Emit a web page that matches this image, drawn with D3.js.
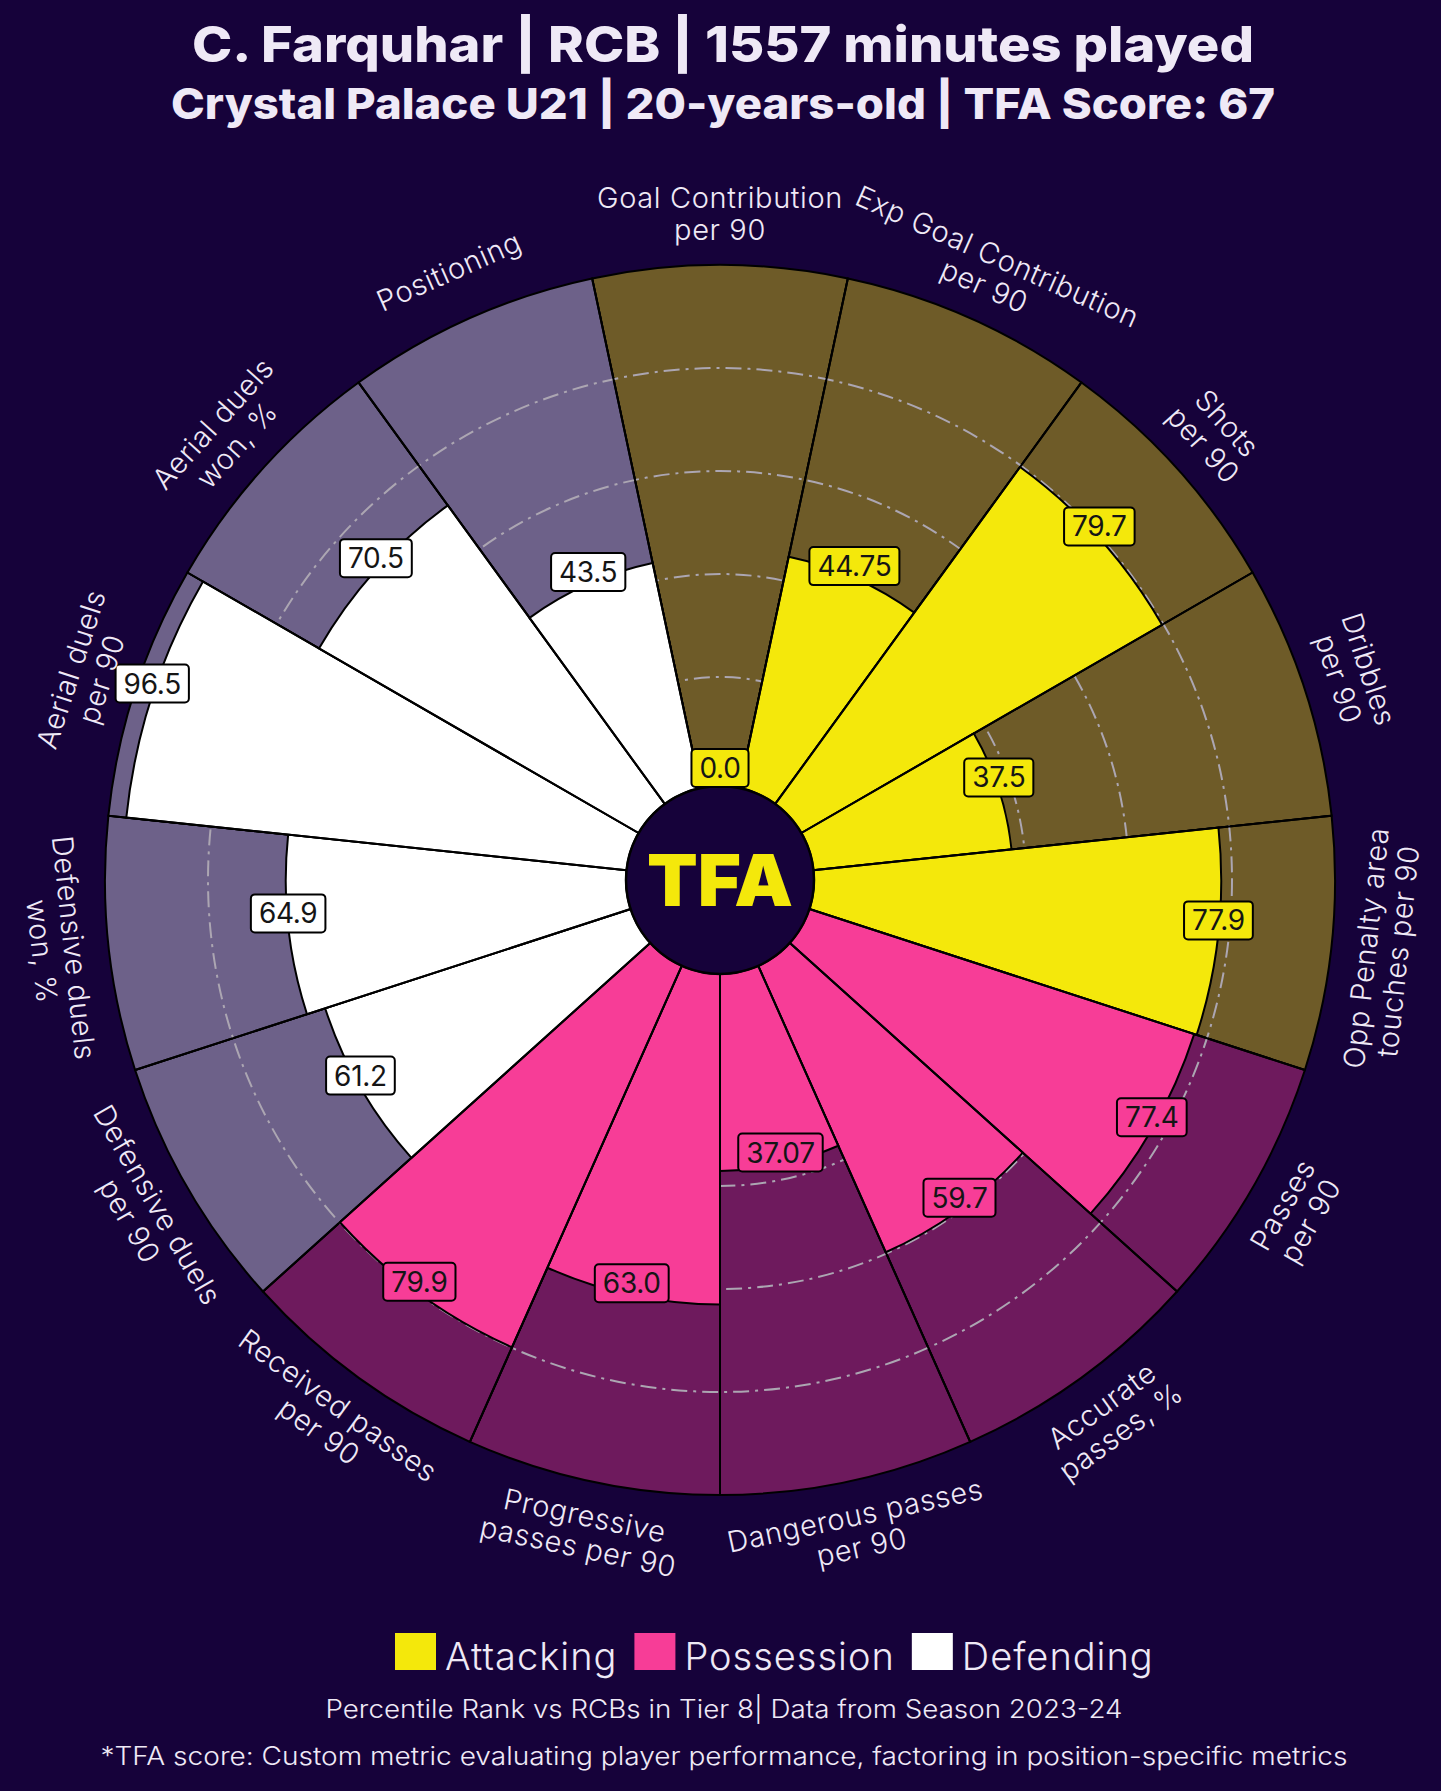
<!DOCTYPE html>
<html>
<head>
<meta charset="utf-8">
<script src="https://cdn.jsdelivr.net/npm/d3@7"></script>
<style>
  html, body { margin: 0; padding: 0; background: #16023a; }
  svg { display: block; }
</style>
</head>
<body>
<div id="chart"></div>
<script>
(function () {
  'use strict';

  // chart data
  var categories = [
    "Goal Contribution\nper 90",
    "Exp Goal Contribution\nper 90",
    "Shots\nper 90",
    "Dribbles\nper 90",
    "Opp Penalty area\ntouches per 90",
    "Passes\nper 90",
    "Accurate\npasses, %",
    "Dangerous passes\nper 90",
    "Progressive\npasses per 90",
    "Received passes\nper 90",
    "Defensive duels\nper 90",
    "Defensive duels\nwon, %",
    "Aerial duels\nper 90",
    "Aerial duels\nwon, %",
    "Positioning"
  ];
  var values = [0.0, 44.75, 79.7, 37.5, 77.9, 77.4, 59.7, 37.07, 63.0, 79.9, 61.2, 64.9, 96.5, 70.5, 43.5];
  var valueLabels = ["0.0", "44.75", "79.7", "37.5", "77.9", "77.4", "59.7", "37.07", "63.0", "79.9", "61.2", "64.9", "96.5", "70.5", "43.5"];
  var groups = ["Attacking", "Attacking", "Attacking", "Attacking", "Attacking",
                "Possession", "Possession", "Possession", "Possession", "Possession",
                "Defending", "Defending", "Defending", "Defending", "Defending"];
  var groupNames = ["Attacking", "Possession", "Defending"];
  var ringTicks = [20, 40, 60, 80];

  var title = "C. Farquhar | RCB | 1557 minutes played";
  var subtitle = "Crystal Palace U21 | 20-years-old | TFA Score: 67";
  var footer1 = "Percentile Rank vs RCBs in Tier 8| Data from Season 2023-24";
  var footer2 = "*TFA score: Custom metric evaluating player performance, factoring in position-specific metrics";

  var barColor = { Attacking: "#f4e80b", Possession: "#f73d97", Defending: "#ffffff" };
  var slabColor = { Attacking: "#6e5b28", Possession: "#6e1a5d", Defending: "#6d6189" };

  var width = 1441, height = 1791;
  var cx = 720, cy = 880;
  var innerR = 94, outerR = 615;
  var labelR = 666;
  var lineW = 2;
  var textColor = "#efe9f6";
  var font = "Inter, 'DejaVu Sans', sans-serif";

  var svg = d3.select("#chart").append("svg")
      .attr("width", width)
      .attr("height", height);

  svg.append("rect")
      .attr("width", width)
      .attr("height", height)
      .attr("fill", "#16023a");

  // titles
  svg.append("text")
      .attr("x", 723).attr("y", 62)
      .attr("text-anchor", "middle")
      .attr("textLength", 1062).attr("lengthAdjust", "spacingAndGlyphs")
      .style("font-family", font)
      .style("font-weight", 800)
      .style("font-size", "50px")
      .style("fill", textColor)
      .text(title);

  svg.append("text")
      .attr("x", 723).attr("y", 119)
      .attr("text-anchor", "middle")
      .attr("textLength", 1104).attr("lengthAdjust", "spacingAndGlyphs")
      .style("font-family", font)
      .style("font-weight", 800)
      .style("font-size", "43px")
      .style("fill", textColor)
      .text(subtitle);

  var n = categories.length;
  var step = 2 * Math.PI / n;

  var r = d3.scaleLinear().domain([0, 100]).range([100, outerR]);

  var data = categories.map(function (c, i) {
    return {
      name: c,
      value: values[i],
      label: valueLabels[i],
      group: groups[i],
      start: i * step - step / 2,
      end: i * step + step / 2,
      mid: i * step
    };
  });

  var g = svg.append("g").attr("transform", "translate(" + cx + "," + cy + ")");

  var arc = d3.arc();

  // background slices
  g.selectAll(".slab")
      .data(data)
      .enter().append("path")
        .attr("class", "slab")
        .attr("d", function (d) {
          return arc({ innerRadius: innerR, outerRadius: r(100), startAngle: d.start, endAngle: d.end });
        })
        .attr("fill", function (d) { return slabColor[d.group]; })
        .attr("stroke", "#000")
        .attr("stroke-width", lineW);

  // rings
  g.selectAll(".ring")
      .data(ringTicks)
      .enter().append("circle")
        .attr("class", "ring")
        .attr("r", function (d) { return r(d); })
        .attr("fill", "none")
        .attr("stroke", "#aca6b2")
        .attr("stroke-width", 2)
        .attr("stroke-dasharray", "16,6,3,6");

  // value bars
  g.selectAll(".bar")
      .data(data)
      .enter().append("path")
        .attr("class", "bar")
        .attr("d", function (d) {
          return arc({ innerRadius: innerR, outerRadius: Math.max(r(d.value), innerR), startAngle: d.start, endAngle: d.end });
        })
        .attr("fill", function (d) { return barColor[d.group]; })
        .attr("stroke", "#000")
        .attr("stroke-width", lineW);

  // radial separators to the outer edge
  g.selectAll(".sep")
      .data(data)
      .enter().append("line")
        .attr("class", "sep")
        .attr("x1", function (d) { return innerR * Math.sin(d.start); })
        .attr("y1", function (d) { return -innerR * Math.cos(d.start); })
        .attr("x2", function (d) { return r(100) * Math.sin(d.start); })
        .attr("y2", function (d) { return -r(100) * Math.cos(d.start); })
        .attr("stroke", "#000")
        .attr("stroke-width", lineW);

  // centre circle + logo
  g.append("circle")
      .attr("r", innerR)
      .attr("fill", "#16023a")
      .attr("stroke", "#000")
      .attr("stroke-width", 2.5);

  g.append("text")
      .attr("x", 0).attr("y", 26)
      .attr("text-anchor", "middle")
      .attr("textLength", 146).attr("lengthAdjust", "spacingAndGlyphs")
      .style("font-family", font)
      .style("font-weight", 900)
      .style("font-size", "72px")
      .style("fill", "#f4e80b")
      .text("TFA");

  // value labels
  var vl = g.selectAll(".vlabel")
      .data(data)
      .enter().append("g")
        .attr("class", "vlabel")
        .attr("transform", function (d) {
          var rr = r(d.value);
          return "translate(" + (rr * Math.sin(d.mid)) + "," + (-rr * Math.cos(d.mid) - 12) + ")";
        });

  vl.append("text")
      .attr("text-anchor", "middle")
      .attr("y", 10)
      .style("font-family", font)
      .style("font-weight", 400)
      .style("font-size", "28px")
      .style("letter-spacing", "-0.3px")
      .style("fill", "#151515")
      .text(function (d) { return d.label; });

  vl.each(function (d) {
    var t = d3.select(this).select("text");
    var w = t.node().getComputedTextLength();
    d3.select(this).insert("rect", "text")
        .attr("x", -w / 2 - 8)
        .attr("y", -19)
        .attr("width", w + 16)
        .attr("height", 38)
        .attr("rx", 4)
        .attr("fill", barColor[d.group])
        .attr("stroke", "#000")
        .attr("stroke-width", lineW);
  });

  // category labels
  var lh = 32;
  var cl = g.selectAll(".clabel")
      .data(data)
      .enter().append("text")
        .attr("class", "clabel")
        .attr("text-anchor", "middle")
        .attr("transform", function (d) {
          var deg = d.mid * 180 / Math.PI;
          var rot = (deg > 90 && deg < 270) ? deg - 180 : deg;
          return "translate(" + (labelR * Math.sin(d.mid)) + "," + (-labelR * Math.cos(d.mid)) + ") rotate(" + rot + ")";
        })
        .style("font-family", font)
        .style("font-weight", 300)
        .style("font-size", "29px")
        .style("letter-spacing", "0.6px")
        .style("fill", textColor);

  cl.each(function (d) {
    var lines = d.name.split("\n");
    var t = d3.select(this);
    lines.forEach(function (line, k) {
      t.append("tspan")
          .attr("x", 0)
          .attr("y", (k - (lines.length - 1) / 2) * lh + 10)
          .text(line);
    });
  });

  // legend
  var legend = svg.append("g").attr("class", "legend");
  var lx = 395;
  groupNames.forEach(function (name) {
    legend.append("rect")
        .attr("x", lx).attr("y", 1633)
        .attr("width", 41).attr("height", 37)
        .attr("fill", barColor[name]);
    var t = legend.append("text")
        .attr("x", lx + 50).attr("y", 1670)
        .style("font-family", font)
        .style("font-weight", 300)
        .style("font-size", "38px")
        .style("letter-spacing", "1px")
        .style("fill", textColor)
        .text(name);
    lx += 50 + t.node().getComputedTextLength() + 17;
  });

  // footers
  svg.append("text")
      .attr("x", 724).attr("y", 1718)
      .attr("text-anchor", "middle")
      .attr("textLength", 797).attr("lengthAdjust", "spacingAndGlyphs")
      .style("font-family", font)
      .style("font-weight", 300)
      .style("font-size", "25px")
      .style("fill", textColor)
      .text(footer1);

  svg.append("text")
      .attr("x", 724).attr("y", 1765)
      .attr("text-anchor", "middle")
      .attr("textLength", 1247).attr("lengthAdjust", "spacingAndGlyphs")
      .style("font-family", font)
      .style("font-weight", 300)
      .style("font-size", "25px")
      .style("fill", textColor)
      .text(footer2);

}());
</script>
</body>
</html>
